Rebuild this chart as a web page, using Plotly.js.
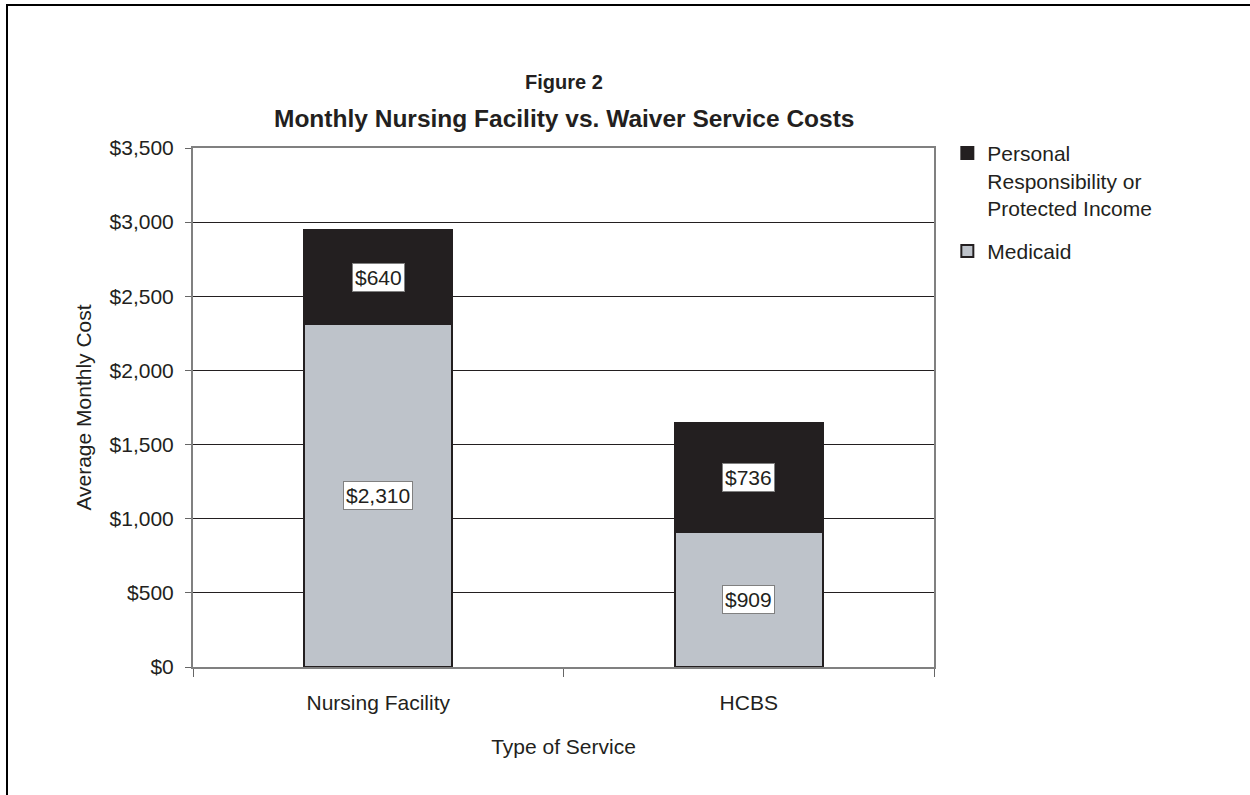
<!DOCTYPE html>
<html>
<head>
<meta charset="utf-8">
<script src="https://cdn.plot.ly/plotly-3.0.1.min.js"></script>
<style>
  html, body { margin: 0; padding: 0; background: #fff; }
  #frame { position: absolute; left: 6px; top: 4px; width: 1260px; height: 800px;
           border-left: 2px solid #000; border-top: 2px solid #000; }
  #chart { position: absolute; left: 0; top: 0; width: 1250px; height: 795px; }
</style>
</head>
<body>
<div id="chart"></div>
<div id="frame"></div>
<script>
const categories = ["Nursing Facility", "HCBS"];
const medicaid = [2310, 909];
const personal = [640, 736];
const seriesNames = ["Medicaid", "Personal<br>Responsibility or<br>Protected Income"];
const yTickVals = [0, 500, 1000, 1500, 2000, 2500, 3000, 3500];
const yTickText = ["$0", "$500", "$1,000", "$1,500", "$2,000", "$2,500", "$3,000", "$3,500"];

const FONT = "Liberation Sans, Arial, sans-serif";
const FS = 21;
const fmt = v => "$" + v.toLocaleString("en-US");

const traces = [
  { type: "bar", name: seriesNames[0], legendgroup: "med", legendrank: 2, x: categories, y: medicaid,
    marker: { color: "#bec3ca", line: { color: "#231f20", width: 2 } },
    width: 0.4, hoverinfo: "skip" },
  { type: "bar", name: seriesNames[1], legendgroup: "pers", legendrank: 1, x: categories, y: personal,
    marker: { color: "#231f20", line: { color: "#231f20", width: 2 } },
    width: 0.4, hoverinfo: "skip" }
];

const annotations = [];
categories.forEach((c, i) => {
  annotations.push({ x: c, y: medicaid[i] / 2, xref: "x", yref: "y", text: fmt(medicaid[i]),
    showarrow: false, bgcolor: "#fff", bordercolor: "#808080", borderwidth: 1, borderpad: 2,
    font: { family: FONT, size: FS, color: "#231f20" } });
  annotations.push({ x: c, y: medicaid[i] + personal[i] / 2, xref: "x", yref: "y", text: fmt(personal[i]),
    showarrow: false, bgcolor: "#fff", bordercolor: "#808080", borderwidth: 1, borderpad: 2,
    font: { family: FONT, size: FS, color: "#231f20" } });
});
annotations.push({ xref: "paper", yref: "paper", x: 0.5, y: 1, yshift: 66, xanchor: "center", yanchor: "middle",
  showarrow: false, text: "<b>Figure 2</b>",
  font: { family: FONT, size: 20, color: "#231f20" } });
annotations.push({ xref: "paper", yref: "paper", x: 0.5, y: 1, yshift: 30, xanchor: "center", yanchor: "middle",
  showarrow: false, text: "<b>Monthly Nursing Facility vs. Waiver Service Costs</b>",
  font: { family: FONT, size: 24.5, color: "#231f20" } });

const layout = {
  width: 1250, height: 795,
  margin: { l: 193, r: 316, t: 148, b: 128 },
  barmode: "stack",
  paper_bgcolor: "rgba(0,0,0,0)", plot_bgcolor: "#fff",
  font: { family: FONT, size: FS, color: "#231f20" },
  showlegend: true,
  legend: { x: 1.018, y: 1.029, xanchor: "left", yanchor: "top", traceorder: "grouped",
    valign: "top", font: { size: FS, color: "#231f20" }, itemwidth: 30, tracegroupgap: 13,
    bgcolor: "rgba(0,0,0,0)" },
  xaxis: { type: "category", tickson: "boundaries", ticks: "outside", ticklen: 8, tickcolor: "#666",
    ticklabelstandoff: 16,
    showline: true, linecolor: "#808080", linewidth: 2, mirror: true,
    title: { text: "Type of Service", standoff: 26, font: { size: FS } },
    tickfont: { size: FS }, fixedrange: true },
  yaxis: { range: [0, 3500], tickvals: yTickVals, ticktext: yTickText, ticks: "outside", ticklen: 6,
    tickcolor: "#666", ticklabelstandoff: 7,
    showline: true, linecolor: "#808080", linewidth: 2, mirror: true,
    showgrid: true, gridcolor: "#231f20", gridwidth: 1, zeroline: false,
    title: { text: "Average Monthly Cost", standoff: 12, font: { size: FS } },
    tickfont: { size: FS }, fixedrange: true },
  annotations: annotations
};

Plotly.newPlot("chart", traces, layout, { displayModeBar: false, staticPlot: true });
</script>
</body>
</html>
